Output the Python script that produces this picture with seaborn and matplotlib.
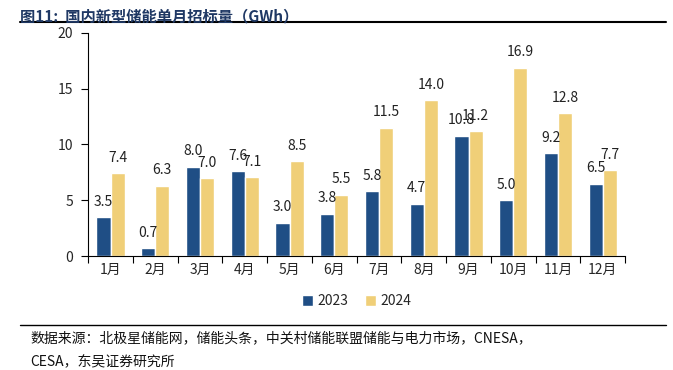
import pandas as pd
import numpy as np
import matplotlib.pyplot as plt
import seaborn as sns

# 数据
months = ['1月', '2月', '3月', '4月', '5月', '6月', '7月', '8月', '9月', '10月', '11月', '12月']
v2023 = [3.5, 0.7, 8.0, 7.6, 3.0, 3.8, 5.8, 4.7, 10.8, 5.0, 9.2, 6.5]
v2024 = [7.4, 6.3, 7.0, 7.1, 8.5, 5.5, 11.5, 14.0, 11.2, 16.9, 12.8, 7.7]

df = pd.DataFrame({
    '月份': months * 2,
    '值': v2023 + v2024,
    '年份': ['2023'] * 12 + ['2024'] * 12,
})

sns.set_theme(style='white')
plt.rcParams['font.family'] = ['Noto Sans CJK SC', 'DejaVu Sans']

fig = plt.figure(figsize=(6.73, 3.70), dpi=100)
ax = fig.add_axes([0.131, 0.308, 0.798, 0.603])

sns.barplot(data=df, x='月份', y='值', hue='年份', order=months,
            palette={'2023': '#1F4E85', '2024': '#F0CF78'},
            width=0.63, ax=ax, saturation=1, legend=True)

for cont in ax.containers:
    ax.bar_label(cont, fmt='%.1f', padding=6, fontsize=10, color='#222222')

ax.set_ylim(0, 20)
ax.set_yticks([0, 5, 10, 15, 20])
ax.set_xlim(-0.5, 11.5)
ax.set_xlabel('')
ax.set_ylabel('')
for s in ['top', 'right']:
    ax.spines[s].set_visible(False)
for s in ['left', 'bottom']:
    ax.spines[s].set_color('#000000')
    ax.spines[s].set_linewidth(0.8)

# 类别之间的刻度
ax.set_xticks(np.arange(-0.5, 12, 1), minor=True)
ax.tick_params(axis='x', which='minor', length=5, width=0.8, color='#000000', direction='out', bottom=True)
ax.tick_params(axis='x', which='major', length=0, labelsize=10, pad=5)
ax.tick_params(axis='y', length=5, width=0.8, color='#000000', direction='out', left=True, labelsize=10, pad=6)

ax.legend(loc='upper center', bbox_to_anchor=(0.5, -0.115), ncol=2, frameon=False,
          fontsize=10, handlelength=0.8, handleheight=0.8, handletextpad=0.3, columnspacing=1.2)

# 标题和来源
fig.text(0.03, 0.978, '图11:  国内新型储能单月招标量（GWh）', fontsize=11, fontweight='bold',
         color='#1F3864', va='top')
fig.add_artist(plt.Line2D([0.03, 0.99], [0.94, 0.94], color='#000000', linewidth=1.5))
fig.add_artist(plt.Line2D([0.03, 0.99], [0.122, 0.122], color='#000000', linewidth=1.0))
fig.text(0.045, 0.085, '数据来源：北极星储能网，储能头条，中关村储能联盟储能与电力市场，CNESA，',
         fontsize=10, color='#111111', va='center')
fig.text(0.045, 0.022, 'CESA，东吴证券研究所', fontsize=10, color='#111111', va='center')

fig.savefig('out.png', dpi=100)
